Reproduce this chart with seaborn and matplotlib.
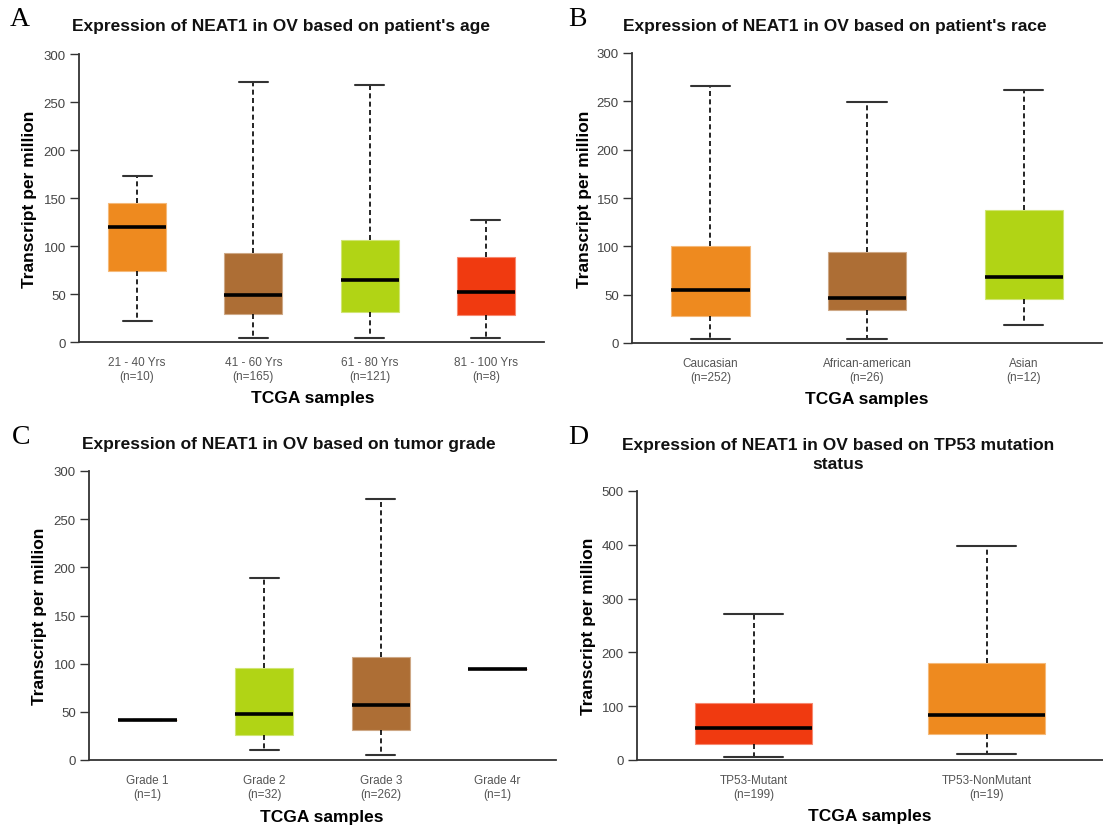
import numpy as np
import pandas as pd
import matplotlib
matplotlib.use("Agg")
import matplotlib.pyplot as plt
import seaborn as sns

# ---------------- data ----------------
age_groups = ["21 - 40 Yrs\n(n=10)", "41 - 60 Yrs\n(n=165)", "61 - 80 Yrs\n(n=121)", "81 - 100 Yrs\n(n=8)"]
age_min = [21.4, 4.5, 4.5, 4.5]
age_q1 = [74.0, 29.0, 30.8, 28.3]
age_med = [119.6, 48.7, 64.6, 52.5]
age_q3 = [145.0, 92.6, 106.0, 88.8]
age_max = [173.0, 271.0, 268.0, 127.0]

race_groups = ["Caucasian\n(n=252)", "African-american\n(n=26)", "Asian\n(n=12)"]
race_min = [4.5, 4.5, 19.0]
race_q1 = [27.9, 33.8, 45.2]
race_med = [55.2, 46.9, 68.6]
race_q3 = [100.7, 93.8, 138.0]
race_max = [265.5, 249.3, 262.0]

grade_groups = ["Grade 1\n(n=1)", "Grade 2\n(n=32)", "Grade 3\n(n=262)", "Grade 4r\n(n=1)"]
grade_min = [41.2, 10.7, 4.8, 94.1]
grade_q1 = [41.2, 26.0, 30.8, 94.1]
grade_med = [41.2, 47.4, 57.0, 94.1]
grade_q3 = [41.2, 95.8, 107.3, 94.1]
grade_max = [41.2, 189.0, 271.0, 94.1]

tp53_groups = ["TP53-Mutant\n(n=199)", "TP53-NonMutant\n(n=19)"]
tp53_min = [5.0, 11.2]
tp53_q1 = [30.4, 47.8]
tp53_med = [60.2, 83.2]
tp53_q3 = [106.2, 180.7]
tp53_max = [271.4, 397.5]

ORANGE = "#EE8A1F"
BROWN = "#AD6E35"
LIME = "#B1D415"
RED = "#F03A10"

age_colors = [ORANGE, BROWN, LIME, RED]
race_colors = [ORANGE, BROWN, LIME]
grade_colors = [ORANGE, LIME, BROWN, RED]
tp53_colors = [RED, ORANGE]

titles = [
    "Expression of NEAT1 in OV based on patient's age",
    "Expression of NEAT1 in OV based on patient's race",
    "Expression of NEAT1 in OV based on tumor grade",
    "Expression of NEAT1 in OV based on TP53 mutation\nstatus",
]
letters = ["A", "B", "C", "D"]

# ---------------- style ----------------
sns.set_style("white")
plt.rcParams["font.family"] = ["Liberation Sans", "DejaVu Sans"]
plt.rcParams["text.color"] = "black"
plt.rcParams["axes.labelcolor"] = "black"

W, H = 1103, 829
fig = plt.figure(figsize=(W / 100, H / 100), dpi=100)


def px_axes(left, right, top, bottom):
    return fig.add_axes([left / W, 1 - bottom / H, (right - left) / W, (bottom - top) / H])


def long_frame(groups, mins, q1s, meds, q3s, maxs):
    rows = []
    for g, a, b, c, d, e in zip(groups, mins, q1s, meds, q3s, maxs):
        for v in (a, b, c, d, e):
            rows.append({"group": g, "tpm": v})
    return pd.DataFrame(rows)


panels = [
    dict(groups=age_groups, stats=(age_min, age_q1, age_med, age_q3, age_max), colors=age_colors,
         box=(79, 544, 55, 343), ymax=300, ystep=50,
         title_xy=(281, 27), letter_xy=(10, 19), ylab=(-0.1075, 0.5), xlab=(0.503, -0.191)),
    dict(groups=race_groups, stats=(race_min, race_q1, race_med, race_q3, race_max), colors=race_colors,
         box=(632, 1102, 54, 344), ymax=300, ystep=50,
         title_xy=(835, 27), letter_xy=(568, 20), ylab=(-0.102, 0.5), xlab=(0.5, -0.193)),
    dict(groups=grade_groups, stats=(grade_min, grade_q1, grade_med, grade_q3, grade_max), colors=grade_colors,
         box=(89, 556, 472, 761), ymax=300, ystep=50,
         title_xy=(289, 445), letter_xy=(12, 437), ylab=(-0.105, 0.5), xlab=(0.498, -0.194)),
    dict(groups=tp53_groups, stats=(tp53_min, tp53_q1, tp53_med, tp53_q3, tp53_max), colors=tp53_colors,
         box=(637, 1103, 492, 761), ymax=500, ystep=100,
         title_xy=(838, 455), letter_xy=(568, 437), ylab=(-0.105, 0.5), xlab=(0.5, -0.208)),
]

for i, p in enumerate(panels):
    l, r, t, b = p["box"]
    ax = px_axes(l, r, t, b)
    df = long_frame(p["groups"], *p["stats"])
    sns.boxplot(
        data=df, x="group", y="tpm", hue="group", order=p["groups"], hue_order=p["groups"],
        palette=p["colors"], saturation=1, legend=False, whis=(0, 100), width=0.5, showfliers=False,
        linecolor="#222222", linewidth=1.2,
        medianprops=dict(color="black", linewidth=2.6),
        whiskerprops=dict(color="black", linestyle=(0, (3, 2)), linewidth=1.2),
        capprops=dict(color="#333333", linewidth=1.5),
        ax=ax,
    )
    for patch in ax.patches:
        fc = patch.get_facecolor()
        patch.set_edgecolor(tuple(min(1, c * 0.6 + 0.4) for c in fc[:3]))
        patch.set_linewidth(0.8)

    n = len(p["groups"])
    ax.set_xlim(-0.5, n - 0.5)
    ax.set_ylim(0, p["ymax"])
    ax.set_yticks(np.arange(0, p["ymax"] + 1, p["ystep"]))
    sns.despine(ax=ax)
    for s in ("left", "bottom"):
        ax.spines[s].set_color("#333333")
        ax.spines[s].set_linewidth(1.3)
    ax.tick_params(axis="y", left=True, length=6.5, width=1.0, color="#333333",
                   labelsize=9.5, labelcolor="#444444", pad=3)
    ax.tick_params(axis="x", bottom=False, length=0, labelsize=8.5, labelcolor="#555555", pad=10)

    ax.set_ylabel("Transcript per million", fontsize=12.5, fontweight="bold", color="black")
    ax.set_xlabel("TCGA samples", fontsize=12.5, fontweight="bold", color="black")
    ax.yaxis.set_label_coords(*p["ylab"])
    ax.yaxis.label.set_va("center")
    ax.xaxis.set_label_coords(*p["xlab"])
    ax.xaxis.label.set_va("center")

    tx, ty = p["title_xy"]
    fig.text(tx / W, 1 - ty / H, titles[i], ha="center", va="center", fontsize=12.5,
             fontweight="bold", linespacing=1.3, color="#111111")
    lx, ly = p["letter_xy"]
    fig.text(lx / W, 1 - ly / H, letters[i], ha="left", va="center", fontsize=20,
             family=["Liberation Serif", "DejaVu Serif"], color="black")

fig.savefig("out.png", dpi=100)
